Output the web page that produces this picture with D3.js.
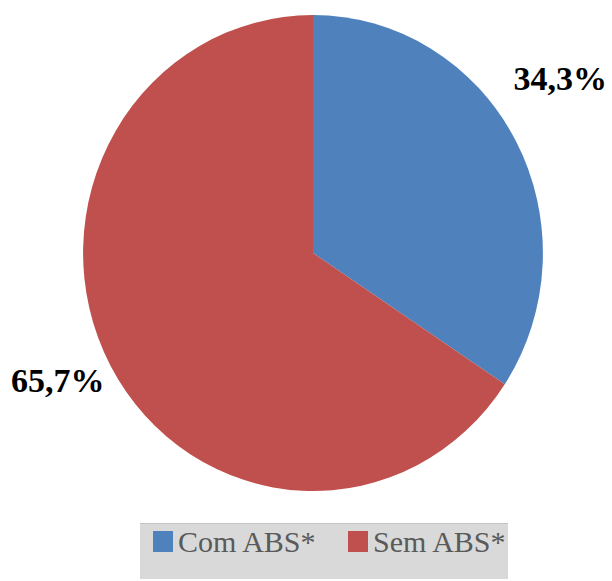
<!DOCTYPE html>
<html>
<head>
<meta charset="utf-8">
<script src="https://cdn.jsdelivr.net/npm/d3@7"></script>
<style>
  body { margin: 0; background: #fff; }
  svg { display: block; }
</style>
</head>
<body>
<div id="chart"></div>
<script>
// Declare data
const CATEGORIES = ["Com ABS*", "Sem ABS*"];
const VALUES = [34.3, 65.7];
const LABELS = ["34,3%", "65,7%"];
const COLORS = ["#4f81bd", "#c0504d"];

// Frame constants
const FRAME_WIDTH = 612;
const FRAME_HEIGHT = 581;
const CENTER = {x: 313, y: 253};
const RADIUS = 238;
const X_SQUASH = 0.966; // pie in the source is slightly narrower than tall

const FRAME = d3.select("#chart")
  .append("svg")
    .attr("width", FRAME_WIDTH)
    .attr("height", FRAME_HEIGHT);

const pie = d3.pie().sort(null).value(d => d);
const arcs = pie(VALUES);

const arc = d3.arc().innerRadius(0).outerRadius(RADIUS);
const labelArc = d3.arc().innerRadius(300).outerRadius(300);

// slices
FRAME.append("g")
    .attr("transform", "translate(" + CENTER.x + "," + CENTER.y + ") scale(" + X_SQUASH + ",1)")
  .selectAll("path")
  .data(arcs)
  .enter()
  .append("path")
    .attr("d", arc)
    .attr("fill", (d, i) => COLORS[i]);

// data labels (outside end, nudged like the source's best fit)
const nudge = [[-8, -33], [0, -15]];
FRAME.append("g")
  .selectAll("text")
  .data(arcs)
  .enter()
  .append("text")
    .attr("x", (d, i) => CENTER.x + labelArc.centroid(d)[0] * X_SQUASH + nudge[i][0])
    .attr("y", (d, i) => CENTER.y + labelArc.centroid(d)[1] + nudge[i][1])
    .attr("dy", "0.35em")
    .attr("text-anchor", "middle")
    .attr("font-family", "'Liberation Serif', 'Times New Roman', serif")
    .attr("font-weight", "bold")
    .attr("font-size", "34px")
    .attr("fill", "#000")
    .text((d, i) => LABELS[i]);

// legend box
const legend = FRAME.append("g").attr("transform", "translate(140,523)");
legend.append("rect")
    .attr("width", 368)
    .attr("height", 56)
    .attr("fill", "#d9d9d9");
legend.append("line")
    .attr("x1", 0).attr("x2", 368)
    .attr("y1", 0.5).attr("y2", 0.5)
    .attr("stroke", "#c4c4c4");

const items = legend.selectAll("g.item")
  .data(CATEGORIES)
  .enter()
  .append("g")
    .attr("class", "item")
    .attr("transform", (d, i) => "translate(" + (13 + i * 195) + ",8)");

items.append("rect")
    .attr("width", 20)
    .attr("height", 21)
    .attr("fill", (d, i) => COLORS[i]);

items.append("text")
    .attr("x", 25)
    .attr("y", 21)
    .attr("font-family", "'Liberation Serif', 'Times New Roman', serif")
    .attr("font-size", "30px")
    .attr("fill", "#5a5a5a")
    .text(d => d);
</script>
</body>
</html>
